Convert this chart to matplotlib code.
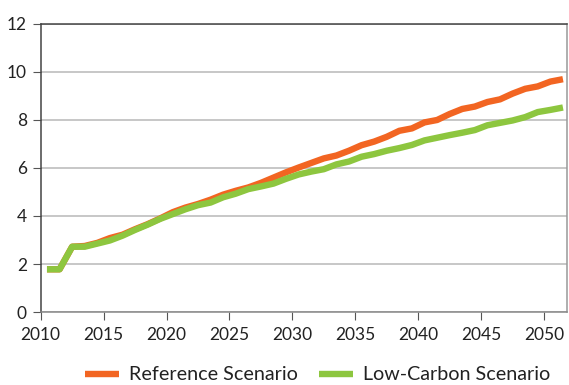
import matplotlib.pyplot as plt
import numpy as np

years = np.arange(2010, 2052)
reference = [1.78, 1.78, 2.72, 2.75, 2.88, 3.08, 3.22, 3.45, 3.66, 3.90,
             4.16, 4.35, 4.50, 4.68, 4.89, 5.05, 5.19, 5.38, 5.60, 5.82,
             6.02, 6.21, 6.40, 6.52, 6.72, 6.95, 7.10, 7.30, 7.55, 7.65,
             7.90, 8.00, 8.25, 8.46, 8.56, 8.75, 8.86, 9.10, 9.30, 9.40,
             9.60, 9.70]
low_carbon = [1.78, 1.78, 2.72, 2.72, 2.85, 2.98, 3.18, 3.42, 3.64, 3.88,
              4.08, 4.28, 4.45, 4.56, 4.78, 4.93, 5.12, 5.23, 5.35, 5.55,
              5.73, 5.85, 5.95, 6.15, 6.27, 6.47, 6.58, 6.72, 6.83, 6.96,
              7.15, 7.26, 7.37, 7.47, 7.58, 7.78, 7.88, 7.98, 8.12, 8.33,
              8.42, 8.52]
xticks = np.arange(2010, 2051, 5)
yticks = np.arange(0, 13, 2)

plt.rcParams['font.family'] = ['Lato', 'DejaVu Sans']

fig = plt.figure(figsize=(5.69, 3.85), dpi=100)
ax = fig.add_axes([0.0715, 0.1896, 0.9245, 0.7481])

# points sit in the middle of each year
ax.plot(years + 0.5, reference, color='#F26522', lw=4.6, label='Reference Scenario',
        solid_capstyle='butt', zorder=3)
ax.plot(years + 0.5, low_carbon, color='#8DC63F', lw=4.6, label='Low-Carbon Scenario',
        solid_capstyle='butt', zorder=4)

ax.set_xlim(2010, 2051.8)
ax.set_ylim(0, 12)
ax.set_xticks(xticks)
ax.set_yticks(yticks)
ax.yaxis.grid(True, color='#BDBDBD', lw=1.2)
ax.set_axisbelow(True)

ax.spines['left'].set_color('#444444')
ax.spines['top'].set_color('#444444')
ax.spines['right'].set_color('#999999')
ax.spines['bottom'].set_color('#888888')
for s in ax.spines.values():
    s.set_linewidth(1.1)

ax.tick_params(axis='y', length=6, color='#555555', labelsize=12.5, labelcolor='#222222', pad=4)
ax.tick_params(axis='x', length=6, color='#555555', labelsize=12.5, labelcolor='#222222', pad=5)

fig.legend(loc='center', bbox_to_anchor=(0.558, 0.026), ncol=2, frameon=False,
           fontsize=14.2, handlelength=1.7, handletextpad=0.5, columnspacing=1.1,
           labelcolor='#222222')

plt.savefig('out.png', dpi=100)
